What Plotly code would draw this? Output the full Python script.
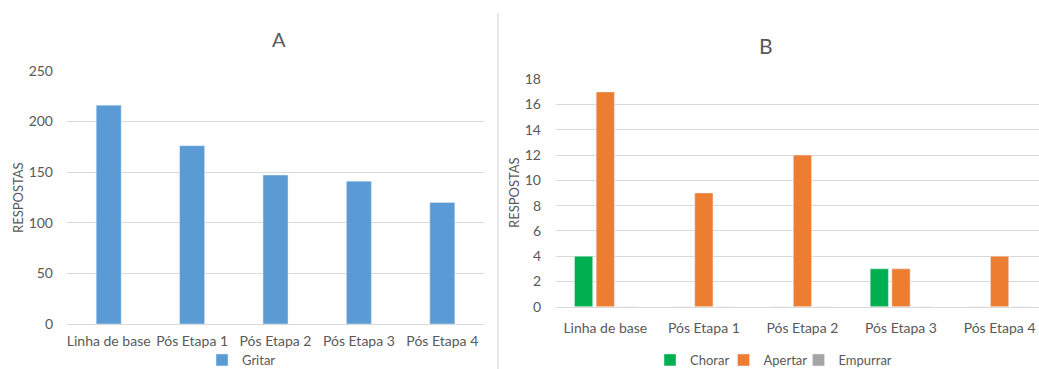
import plotly.graph_objects as go

# Response counts per phase
categories = ["Linha de base", "Pós Etapa 1", "Pós Etapa 2", "Pós Etapa 3", "Pós Etapa 4"]
gritar = [216, 176, 147, 141, 120]
chorar = [4, 0, 0, 3, 0]
apertar = [17, 9, 12, 3, 4]
empurrar = [0, 0, 0, 0, 0]

FONT = "Lato"
TXT = "#595959"
GRID = "#D9D9D9"
W, H = 1039, 369

fig = go.Figure()

# Panel A
fig.add_trace(go.Bar(x=categories, y=gritar, name="Gritar", marker_color="#5B9BD5",
                     width=0.3, offset=-0.15, xaxis="x", yaxis="y",
                     legend="legend", showlegend=True))

# Panel B: one legend box per series so each entry sits at its own spot
fig.add_trace(go.Bar(x=categories, y=chorar, name="Chorar", marker_color="#00B050",
                     xaxis="x2", yaxis="y2", legend="legend2", showlegend=True))
fig.add_trace(go.Bar(x=categories, y=apertar, name="Apertar", marker_color="#ED7D31",
                     xaxis="x2", yaxis="y2", legend="legend3", showlegend=True))
fig.add_trace(go.Bar(x=categories, y=empurrar, name="Empurrar", marker_color="#A5A5A5",
                     xaxis="x2", yaxis="y2", legend="legend4", showlegend=True))


def px_x(p):
    return p / W


def px_y(p):
    return 1 - p / H


tick_font = dict(family=FONT, size=14, color=TXT)


def legend_at(xpx):
    return dict(orientation="h", x=px_x(xpx), y=px_y(360), xanchor="left", yanchor="middle",
                font=dict(family=FONT, size=13, color=TXT), itemwidth=30,
                bgcolor="rgba(0,0,0,0)", itemclick=False, itemdoubleclick=False)


def label(text, xpx, ypx, size, angle=0):
    return dict(text=text, x=px_x(xpx), y=px_y(ypx), xref="paper", yref="paper",
                xanchor="center", yanchor="middle", textangle=angle, showarrow=False,
                font=dict(family=FONT, size=size, color=TXT))


fig.update_layout(
    width=W, height=H,
    margin=dict(l=0, r=0, t=0, b=0, autoexpand=False),
    paper_bgcolor="white", plot_bgcolor="white",
    showlegend=True,
    barmode="group", bargap=0.34, bargroupgap=0.16,
    font=dict(family=FONT, color=TXT, size=14),
    xaxis=dict(domain=[px_x(67), px_x(484)], range=[-0.5, 4.5], anchor="y",
               showgrid=False, showline=True, linecolor=GRID, linewidth=1,
               ticks="", tickfont=tick_font, ticklabelstandoff=4, automargin=False),
    yaxis=dict(domain=[px_y(324), px_y(70.7)], range=[0, 250], dtick=50, anchor="x",
               showgrid=True, gridcolor=GRID, gridwidth=1, zeroline=False,
               showline=False, ticks="", tickfont=tick_font, ticklabelstandoff=13,
               automargin=False),
    xaxis2=dict(domain=[px_x(556), 1.0], range=[-0.5, 4.4], anchor="y2",
                showgrid=False, showline=True, linecolor=GRID, linewidth=1,
                ticks="", tickfont=tick_font, ticklabelstandoff=8, automargin=False),
    yaxis2=dict(domain=[px_y(306.7), px_y(79.3)], range=[0, 18], dtick=2, anchor="x2",
                showgrid=True, gridcolor=GRID, gridwidth=1, zeroline=False,
                showline=False, ticks="", tickfont=tick_font, ticklabelstandoff=14,
                automargin=False),
    legend=legend_at(202),
    legend2=legend_at(650),
    legend3=legend_at(723.5),
    legend4=legend_at(798.5),
    annotations=[
        label("A", 279, 39, 20),
        label("B", 766, 45, 21),
        label("RESPOSTAS", 18, 198, 13, -90),
        label("RESPOSTAS", 514, 193, 13, -90),
    ],
    shapes=[
        dict(type="line", xref="paper", yref="paper", x0=px_x(498), x1=px_x(498),
             y0=0, y1=px_y(13), line=dict(color="#CFCFCF", width=1)),
    ],
)

fig.write_html("out.html")
